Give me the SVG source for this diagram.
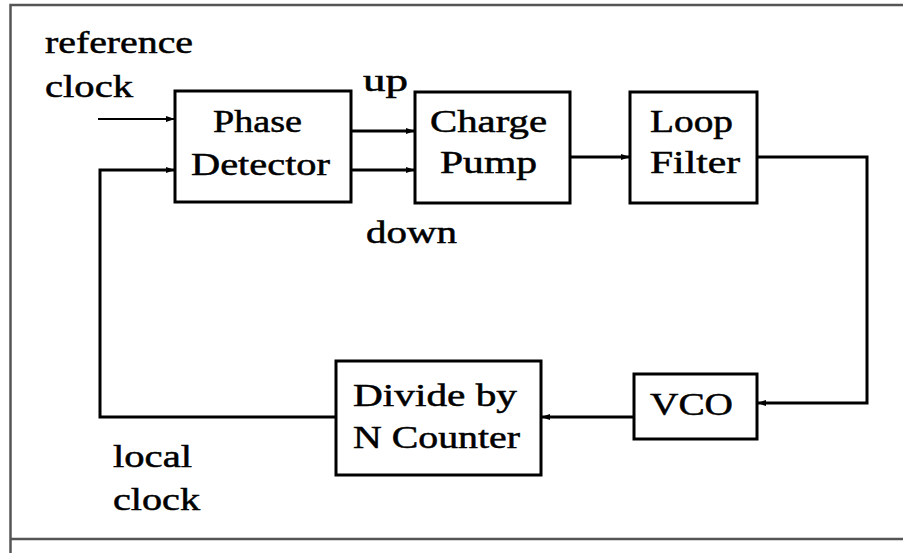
<svg xmlns="http://www.w3.org/2000/svg" width="903" height="553" viewBox="0 0 903 553">
  <style>
    .box { fill: #ffffff; stroke: #000000; stroke-width: 3; }
    .wire { fill: none; stroke: #000000; stroke-width: 3; stroke-linejoin: miter; }
    .thin { stroke-width: 2; }
    .lbl { font-family: "Liberation Serif", serif; font-size: 31px; fill: #000000; stroke: #000000; stroke-width: 0.5; }
    .frame { fill: none; stroke: #555555; stroke-width: 2.5; }
  </style>
  <defs>
    <marker id="arr" markerUnits="userSpaceOnUse" markerWidth="10" markerHeight="8" refX="9" refY="4" orient="auto">
      <path d="M0,1 L9,4 L0,7 Z" fill="#000000"/>
    </marker>
  </defs>
  <rect x="0" y="0" width="903" height="553" fill="#ffffff"/>
  <g id="frame">
    <path class="frame" d="M903,5 H10.5 V553"/>
    <path class="frame" d="M10.5,539 H903"/>
  </g>
  <g id="connectors">
    <path class="wire thin" d="M98,119 H175" marker-end="url(#arr)"/>
    <path class="wire" d="M336,417 H100 V170 H175" marker-end="url(#arr)"/>
    <path class="wire" d="M351,131 H415" marker-end="url(#arr)"/>
    <path class="wire" d="M351,170 H415" marker-end="url(#arr)"/>
    <path class="wire" d="M570,157 H630" marker-end="url(#arr)"/>
    <path class="wire" d="M757,157 H867 V403 H757" marker-end="url(#arr)"/>
    <path class="wire" d="M634,417 H541" marker-end="url(#arr)"/>
  </g>
  <g id="phase-detector">
    <rect class="box" x="175" y="91" width="176" height="111"/>
    <text class="lbl" x="213" y="132" textLength="89" lengthAdjust="spacingAndGlyphs">Phase</text>
    <text class="lbl" x="191" y="175" textLength="139" lengthAdjust="spacingAndGlyphs">Detector</text>
  </g>
  <g id="charge-pump">
    <rect class="box" x="415" y="92" width="155" height="111"/>
    <text class="lbl" x="430" y="132" textLength="117" lengthAdjust="spacingAndGlyphs">Charge</text>
    <text class="lbl" x="440" y="173" textLength="97" lengthAdjust="spacingAndGlyphs">Pump</text>
  </g>
  <g id="loop-filter">
    <rect class="box" x="630" y="92" width="127" height="111"/>
    <text class="lbl" x="650" y="132" textLength="83" lengthAdjust="spacingAndGlyphs">Loop</text>
    <text class="lbl" x="650" y="173" textLength="90" lengthAdjust="spacingAndGlyphs">Filter</text>
  </g>
  <g id="vco">
    <rect class="box" x="634" y="374" width="123" height="65"/>
    <text class="lbl" x="650" y="415" textLength="83" lengthAdjust="spacingAndGlyphs">VCO</text>
  </g>
  <g id="divide-by-n">
    <rect class="box" x="336" y="361" width="205" height="114"/>
    <text class="lbl" x="353" y="406" textLength="164" lengthAdjust="spacingAndGlyphs">Divide by</text>
    <text class="lbl" x="353" y="448" textLength="167" lengthAdjust="spacingAndGlyphs">N Counter</text>
  </g>
  <g id="labels">
    <text class="lbl" x="45" y="53" textLength="148" lengthAdjust="spacingAndGlyphs">reference</text>
    <text class="lbl" x="45" y="97" textLength="88" lengthAdjust="spacingAndGlyphs">clock</text>
    <text class="lbl" x="363" y="91" textLength="45" lengthAdjust="spacingAndGlyphs">up</text>
    <text class="lbl" x="366" y="243" textLength="91" lengthAdjust="spacingAndGlyphs">down</text>
    <text class="lbl" x="113" y="467" textLength="79" lengthAdjust="spacingAndGlyphs">local</text>
    <text class="lbl" x="113" y="510" textLength="87" lengthAdjust="spacingAndGlyphs">clock</text>
  </g>
</svg>
